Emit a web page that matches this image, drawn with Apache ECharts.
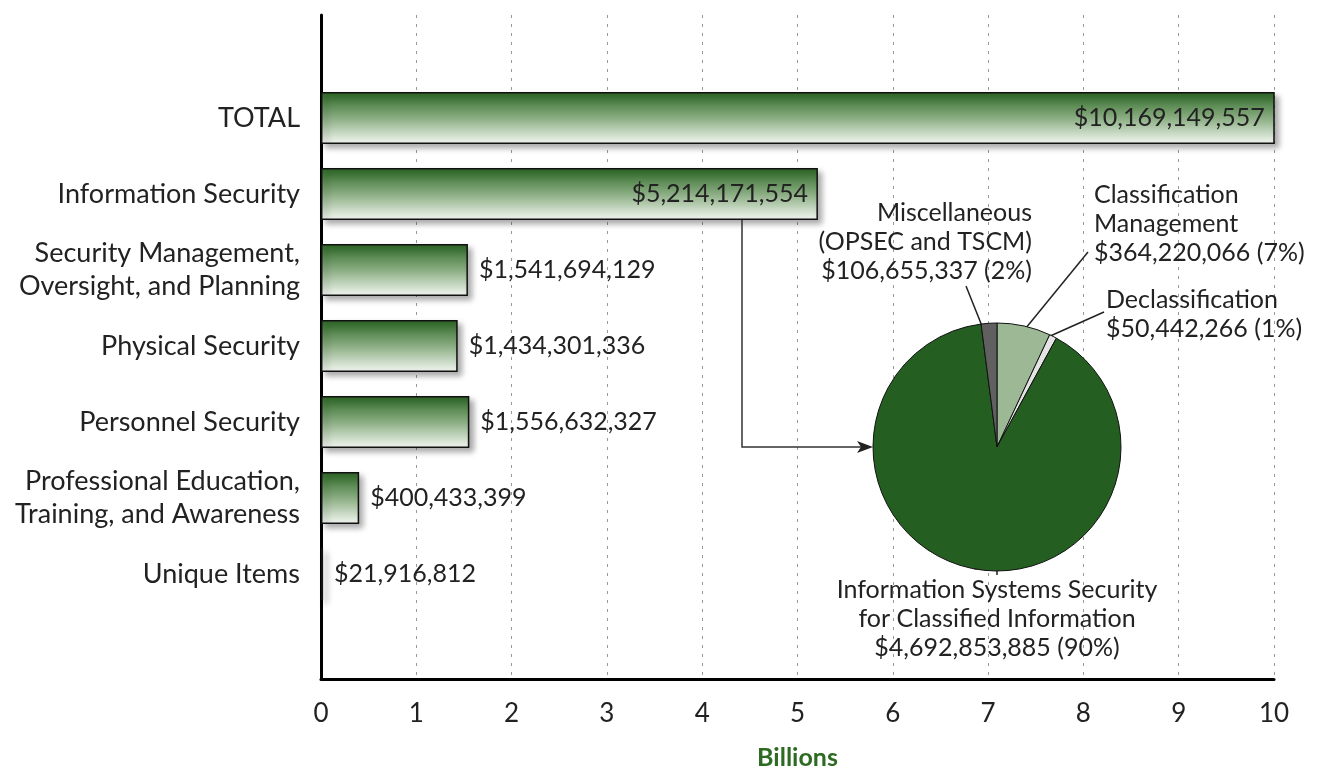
<!DOCTYPE html>
<html>
<head>
<meta charset="utf-8">
<script src="https://cdn.jsdelivr.net/npm/echarts@6/dist/echarts.min.js"></script>
<style>
  html, body { margin: 0; background: #fff; }
  #chart { width: 1328px; height: 768px; }
</style>
</head>
<body>
<div id="chart"></div>
<script>
// bar data (dollars)
const categories = ['TOTAL', 'Information Security', 'Security Management,\nOversight, and Planning',
  'Physical Security', 'Personnel Security', 'Professional Education,\nTraining, and Awareness', 'Unique Items'];
const dollars = [10169149557, 5214171554, 1541694129, 1434301336, 1556632327, 400433399, 21916812];
const xTicks = [0, 1, 2, 3, 4, 5, 6, 7, 8, 9, 10];

// pie breakdown of Information Security
const pieNames = ['Classification\nManagement', 'Declassification',
  'Information Systems Security\nfor Classified Information', 'Miscellaneous\n(OPSEC and TSCM)'];
const pieDollars = [364220066, 50442266, 4692853885, 106655337];
const piePercents = ['7%', '1%', '90%', '2%'];
const pieColors = ['#9db894', '#e4e4e4', '#245e21', '#606060'];

const fmt = v => '$' + v.toLocaleString('en-US');
const FONT = 'Lato, sans-serif';

const chart = echarts.init(document.getElementById('chart'));

const barGradient = new echarts.graphic.LinearGradient(0, 0, 0, 1, [
  { offset: 0, color: '#2b6824' },
  { offset: 0.5, color: '#8aad82' },
  { offset: 1, color: '#f4f8f3' }
]);

const barData = dollars.map((d, i) => ({
  value: d / 1e9,
  label: i < 2 ? { position: 'insideRight', distance: 10 } : { position: 'right', distance: 11 }
}));

// where each pie label sits, and its leader line
const pieLabelPos = [
  { x: 1094, y: 180, align: 'left', line: [[1088, 252], [1088, 252], [1021, 334]] },
  { x: 1106, y: 285, align: 'left', line: [[1104, 312], [1104, 312], [1048, 337]] },
  { x: 997, y: 575, align: 'center', line: null },
  { x: 1032, y: 198, align: 'right', line: [[966, 286], [966, 286], [984, 331]] }
];

chart.setOption({
  animation: false,
  textStyle: { fontFamily: FONT },
  grid: [
    { left: 321, right: 54, top: 80, height: 532, outerBoundsMode: 'none' },
    { left: 321, right: 54, top: 15, height: 664, outerBoundsMode: 'none' }
  ],
  xAxis: [
    { gridIndex: 0, type: 'value', min: 0, max: 10, show: false },
    {
      gridIndex: 1, type: 'value', min: 0, max: 10, interval: 1,
      axisLine: { show: true, lineStyle: { color: '#000', width: 3 } },
      axisTick: { show: false },
      axisLabel: { fontSize: 26, color: '#222', margin: 22, fontFamily: FONT,
        formatter: v => xTicks.includes(v) ? String(v) : '' },
      splitLine: { show: true, lineStyle: { color: '#999', type: [3, 6], width: 1 } },
      name: 'Billions', nameLocation: 'middle', nameGap: 66,
      nameTextStyle: { fontSize: 25, fontWeight: 'bold', color: '#2e6b22', fontFamily: FONT }
    }
  ],
  yAxis: [
    {
      gridIndex: 0, type: 'category', data: categories, inverse: true,
      axisLine: { show: false }, axisTick: { show: false },
      axisLabel: { fontSize: 27, color: '#222', margin: 21, lineHeight: 33, fontFamily: FONT }
    },
    {
      gridIndex: 1, type: 'value', min: 0, max: 1,
      axisLine: { show: true, lineStyle: { color: '#000', width: 3 } },
      axisTick: { show: false }, axisLabel: { show: false }, splitLine: { show: false }
    }
  ],
  series: [
    {
      type: 'bar', xAxisIndex: 0, yAxisIndex: 0, barWidth: 52,
      data: barData,
      itemStyle: {
        color: barGradient, borderColor: '#111', borderWidth: 1.5,
        shadowBlur: 6, shadowOffsetX: 4, shadowOffsetY: 4, shadowColor: 'rgba(0,0,0,0.35)'
      },
      label: {
        show: true, fontSize: 25, color: '#222', fontFamily: FONT,
        formatter: p => fmt(dollars[p.dataIndex])
      },
      z: 3
    },
    {
      type: 'pie', center: [997, 447], radius: 124, startAngle: 90, clockwise: true,
      data: pieNames.map((n, i) => ({
        name: n, value: pieDollars[i], itemStyle: { color: pieColors[i] },
        label: { align: pieLabelPos[i].align }
      })),
      itemStyle: { borderColor: '#111', borderWidth: 1 },
      label: {
        show: true, fontSize: 25, color: '#222', lineHeight: 29, fontFamily: FONT, overflow: 'none',
        formatter: p => p.name + '\n' + fmt(pieDollars[p.dataIndex]) + ' (' + piePercents[p.dataIndex] + ')'
      },
      labelLine: { show: true, lineStyle: { color: '#222', width: 1.5 } },
      labelLayout: p => {
        const pos = pieLabelPos[p.dataIndex];
        const out = { x: pos.x, y: pos.y, align: pos.align, verticalAlign: 'top' };
        if (pos.line) out.labelLinePoints = pos.line;
        return out;
      },
      emphasis: { disabled: true },
      z: 4
    }
  ],
  graphic: [
    {
      type: 'polyline', z: 5,
      shape: { points: [[742, 220], [742, 447], [862, 447]] },
      style: { stroke: '#333', lineWidth: 1.5, fill: null }
    },
    {
      type: 'polygon', z: 5,
      shape: { points: [[873, 447], [857, 441], [861, 447], [857, 453]] },
      style: { fill: '#222' }
    }
  ]
});
</script>
</body>
</html>
